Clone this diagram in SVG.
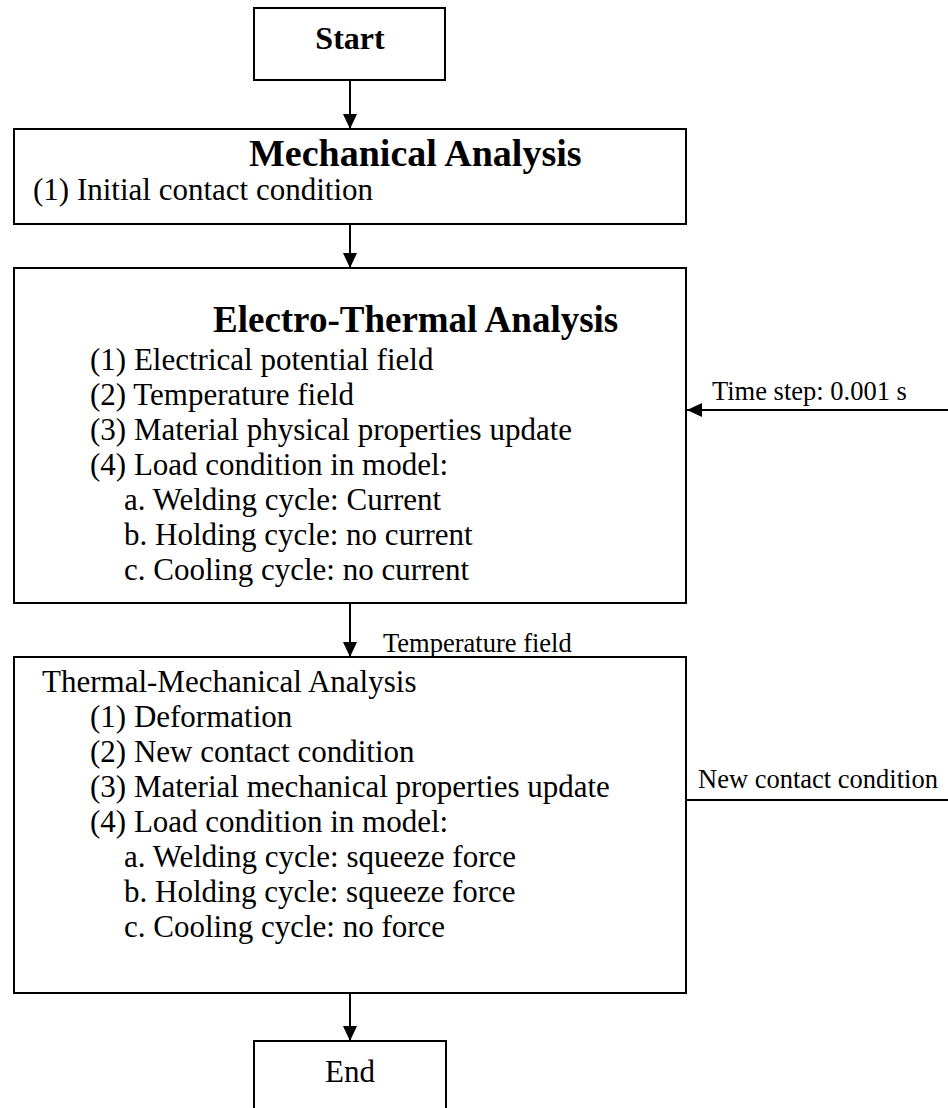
<svg xmlns="http://www.w3.org/2000/svg" width="948" height="1108" viewBox="0 0 948 1108">
<defs>
<marker id="ah" viewBox="0 0 15 14" refX="15" refY="7" markerWidth="15" markerHeight="14" markerUnits="userSpaceOnUse" orient="auto">
<path d="M0,0 L15,7 L0,14 Z" fill="#000"/>
</marker>
<style>
.box{fill:#fff;stroke:#000;stroke-width:2}
.ln{fill:none;stroke:#000;stroke-width:2}
.t{font-family:"Liberation Serif","Times New Roman",serif;font-size:31px;fill:#000}
.b{font-family:"Liberation Serif","Times New Roman",serif;font-size:37px;font-weight:bold;fill:#000}
.lab{font-family:"Liberation Serif","Times New Roman",serif;font-size:26.5px;fill:#000}
</style>
</defs>
<rect width="948" height="1108" fill="#fff"/>
<g id="connectors">
<line class="ln" x1="350" y1="80" x2="350" y2="129" marker-end="url(#ah)"/>
<line class="ln" x1="350" y1="224" x2="350" y2="268" marker-end="url(#ah)"/>
<line class="ln" x1="350" y1="603" x2="350" y2="657" marker-end="url(#ah)"/>
<line class="ln" x1="350" y1="993" x2="350" y2="1041" marker-end="url(#ah)"/>
<line class="ln" x1="948" y1="410" x2="687" y2="410" marker-end="url(#ah)"/>
<line class="ln" x1="686" y1="800" x2="948" y2="800"/>
<text class="lab" x="383" y="652">Temperature field</text>
<text class="lab" x="712" y="400">Time step: 0.001 s</text>
<text class="lab" x="698" y="788">New contact condition</text>
</g>
<g id="start">
<rect class="box" x="254" y="8" width="191" height="72"/>
<text class="b" x="350" y="49" text-anchor="middle" style="font-size:32px">Start</text>
</g>
<g id="mechanical">
<rect class="box" x="14" y="129" width="672" height="95"/>
<text class="b" x="249" y="166" style="font-size:38px">Mechanical Analysis</text>
<text class="t" x="33" y="200">(1) Initial contact condition</text>
</g>
<g id="electro-thermal">
<rect class="box" x="14" y="268" width="672" height="335"/>
<text class="b" x="213" y="332">Electro-Thermal Analysis</text>
<text class="t" x="90" y="370">(1) Electrical potential field</text>
<text class="t" x="90" y="405">(2) Temperature field</text>
<text class="t" x="90" y="440">(3) Material physical properties update</text>
<text class="t" x="90" y="475">(4) Load condition in model:</text>
<text class="t" x="124" y="510">a. Welding cycle: Current</text>
<text class="t" x="124" y="545">b. Holding cycle: no current</text>
<text class="t" x="124" y="580">c. Cooling cycle: no current</text>
</g>
<g id="thermal-mechanical">
<rect class="box" x="14" y="657" width="672" height="336"/>
<text class="t" x="42" y="692">Thermal-Mechanical Analysis</text>
<text class="t" x="90" y="727">(1) Deformation</text>
<text class="t" x="90" y="762">(2) New contact condition</text>
<text class="t" x="90" y="797">(3) Material mechanical properties update</text>
<text class="t" x="90" y="832">(4) Load condition in model:</text>
<text class="t" x="124" y="867">a. Welding cycle: squeeze force</text>
<text class="t" x="124" y="902">b. Holding cycle: squeeze force</text>
<text class="t" x="124" y="937">c. Cooling cycle: no force</text>
</g>
<g id="end">
<rect class="box" x="254" y="1041" width="192" height="80"/>
<text class="t" x="350" y="1082" text-anchor="middle">End</text>
</g>
</svg>
